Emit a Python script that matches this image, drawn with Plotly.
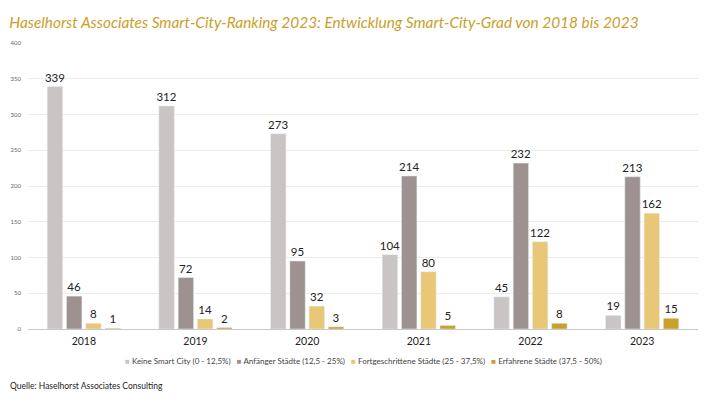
import plotly.graph_objects as go

years = ["2018", "2019", "2020", "2021", "2022", "2023"]
series_names = [
    "Keine Smart City (0 - 12,5%)",
    "Anfänger Städte (12,5 - 25%)",
    "Fortgeschrittene Städte (25 - 37,5%)",
    "Erfahrene Städte (37,5 - 50%)",
]
keine = [339, 312, 273, 104, 45, 19]
anfaenger = [46, 72, 95, 214, 232, 213]
fortgeschritten = [8, 14, 32, 80, 122, 162]
erfahren = [1, 2, 3, 5, 8, 15]
colors = ["#c9c5c4", "#9e9291", "#e8c776", "#c9a028"]
y_ticks = [0, 50, 100, 150, 200, 250, 300, 350, 400]

FONT = "Lato"

fig = go.Figure()
for name, vals, col in zip(series_names, [keine, anfaenger, fortgeschritten, erfahren], colors):
    fig.add_trace(go.Bar(
        x=years, y=vals, name=name, marker_color=col,
        text=[str(v) for v in vals], textposition="outside",
        textfont=dict(size=11.5, color="#222222", family=FONT),
        constraintext="none", cliponaxis=False, showlegend=False,
    ))

legend_html = "   ".join(
    f'<span style="color:{c}">■</span> {n}' for n, c in zip(series_names, colors)
)

fig.update_layout(
    width=710, height=399,
    paper_bgcolor="white", plot_bgcolor="white",
    barmode="group", bargap=0.31, bargroupgap=0.2,
    margin=dict(l=28, r=12, t=43, b=70),
    title=dict(
        text="<i>Haselhorst Associates Smart-City-Ranking 2023: Entwicklung Smart-City-Grad von 2018 bis 2023</i>",
        x=0.013, xanchor="left", y=0.943, yanchor="middle",
        font=dict(size=15.4, color="#c9a02a", family=FONT),
    ),
    font=dict(family=FONT),
    yaxis=dict(
        range=[0, 400], tickvals=y_ticks, showgrid=True, gridcolor="#ececec",
        tickfont=dict(size=6, color="#666666"), zeroline=False, showline=False,
        ticks="", ticklabelstandoff=6,
    ),
    xaxis=dict(
        tickfont=dict(size=10.5, color="#222222"), showline=True, linecolor="#c8c8c8",
        linewidth=1, ticks="", ticklabelstandoff=2,
    ),
    annotations=[
        dict(
            text=legend_html, xref="paper", yref="paper",
            x=0.5, y=-0.112, xanchor="center", yanchor="middle", showarrow=False,
            font=dict(size=8, color="#444444"),
        ),
        dict(
            text="Quelle: Haselhorst Associates Consulting", xref="paper", yref="paper",
            x=-0.03, y=-0.2, xanchor="left", yanchor="middle", showarrow=False,
            font=dict(size=8.5, color="#222222"),
        ),
    ],
)

fig.write_html("out.html", config={"displayModeBar": False},
               post_script="document.body.style.margin='0';")
